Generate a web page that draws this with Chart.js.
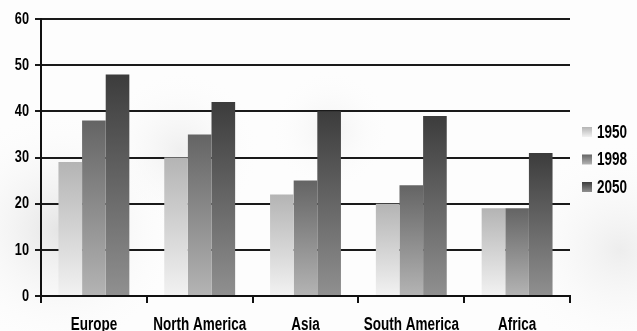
<!DOCTYPE html>
<html>
<head>
<meta charset="utf-8">
<script src="https://cdn.jsdelivr.net/npm/chart.js@4.4.1/dist/chart.umd.min.js"></script>
<style>
  html, body { margin: 0; padding: 0; overflow: hidden; background: #fff; }
  #wrap { position: relative; width: 637px; height: 341px; }
</style>
</head>
<body>
<div id="wrap"><canvas id="chart"></canvas></div>
<script>
// Data
const regions = ['Europe', 'North America', 'Asia', 'South America', 'Africa'];
const years = ['1950', '1998', '2050'];
const values1950 = [29, 30, 22, 20, 19];
const values1998 = [38, 35, 25, 24, 19];
const values2050 = [48, 42, 40, 39, 31];
const yTicks = [0, 10, 20, 30, 40, 50, 60];

// [top colour, bottom colour] of each series gradient
const shades = [
    ['#b4b4b4', '#f2f2f2'],
    ['#646464', '#b4b4b4'],
    ['#3c3c3c', '#909090']
];

// no narrow font installed, so text is squeezed horizontally instead
const fontFamily = "'Liberation Sans', Arial, sans-serif";
const narrowScale = 0.75;

function barGradient(seriesIndex) {
    return function(ctx) {
        const chart = ctx.chart;
        if (!chart.chartArea || ctx.type !== 'data') return shades[seriesIndex][0];
        const y = chart.scales.y;
        const top = y.getPixelForValue(ctx.raw);
        const bottom = y.getPixelForValue(0);
        const g = chart.ctx.createLinearGradient(0, top, 0, bottom);
        g.addColorStop(0, shades[seriesIndex][0]);
        g.addColorStop(1, shades[seriesIndex][1]);
        return g;
    };
}

const condensed = {
    id: 'condensed',
    beforeDraw(chart) {
        const c = chart.ctx;
        if (c._narrow) return;
        const orig = c.fillText.bind(c);
        c.fillText = function(text, x, y) {
            c.save();
            c.translate(x, y);
            c.scale(narrowScale, 1);
            orig(text, 0, 0);
            c.restore();
        };
        c._narrow = true;
    }
};

// faint photo-like backdrop
const backdrop = {
    id: 'backdrop',
    beforeDraw(chart) {
        const c = chart.ctx;
        c.save();
        c.fillStyle = '#fdfdfd';
        c.fillRect(0, 0, chart.width, chart.height);
        const blobs = [
            [60, 230, 120, '#e4e4e4'],
            [180, 150, 80, '#efefef'],
            [330, 130, 60, '#f2f2f2'],
            [620, 250, 110, '#ededed']
        ];
        blobs.forEach(([x, y, r, col]) => {
            const g = c.createRadialGradient(x, y, 0, x, y, r);
            g.addColorStop(0, col);
            g.addColorStop(1, 'rgba(253,253,253,0)');
            c.fillStyle = g;
            c.fillRect(x - r, y - r, r * 2, r * 2);
        });
        c.restore();
    }
};

// legend on the right, drawn by hand
const sideLegend = {
    id: 'sideLegend',
    afterDraw(chart) {
        const c = chart.ctx;
        c.save();
        c.font = 'bold 18px ' + fontFamily;
        c.textBaseline = 'middle';
        c.textAlign = 'left';
        years.forEach((label, i) => {
            const cy = 132 + i * 27.5;
            const g = c.createLinearGradient(0, cy - 5, 0, cy + 5);
            g.addColorStop(0, shades[i][0]);
            g.addColorStop(1, shades[i][1]);
            c.fillStyle = g;
            c.fillRect(582, cy - 5, 10, 10);
            c.fillStyle = '#000';
            c.fillText(label, 597, cy + 1);
        });
        c.restore();
    }
};

const seriesValues = [values1950, values1998, values2050];

new Chart(document.getElementById('chart'), {
    type: 'bar',
    data: {
        labels: regions,
        datasets: years.map((year, i) => ({
            label: year,
            data: seriesValues[i],
            backgroundColor: barGradient(i),
            borderWidth: 0,
            categoryPercentage: 0.67,
            barPercentage: 1.0
        }))
    },
    plugins: [condensed, backdrop, sideLegend],
    options: {
        responsive: true,
        maintainAspectRatio: false,
        animation: false,
        layout: { padding: { top: 19, right: 67, left: 0, bottom: 0 } },
        plugins: {
            legend: { display: false },
            tooltip: { enabled: false }
        },
        scales: {
            x: {
                offset: true,
                grid: {
                    offset: true,
                    drawOnChartArea: false,
                    drawTicks: true,
                    tickLength: 7,
                    color: '#111',
                    lineWidth: 2
                },
                border: { display: true, color: '#111', width: 2 },
                ticks: {
                    color: '#000',
                    padding: 11,
                    maxRotation: 0,
                    minRotation: 0,
                    autoSkip: false,
                    font: { family: fontFamily, size: 18, weight: 'bold' }
                },
                afterFit(scale) { scale.height = 45; }
            },
            y: {
                min: 0,
                max: 60,
                afterBuildTicks(scale) { scale.ticks = yTicks.map(v => ({ value: v })); },
                grid: {
                    color: '#1a1a1a',
                    lineWidth: 2,
                    drawTicks: true,
                    tickLength: 6
                },
                border: { display: true, color: '#111', width: 2 },
                ticks: {
                    color: '#000',
                    padding: 6,
                    font: { family: fontFamily, size: 17, weight: 'bold' }
                },
                afterFit(scale) { scale.width = 41; }
            }
        }
    }
});
</script>
</body>
</html>
